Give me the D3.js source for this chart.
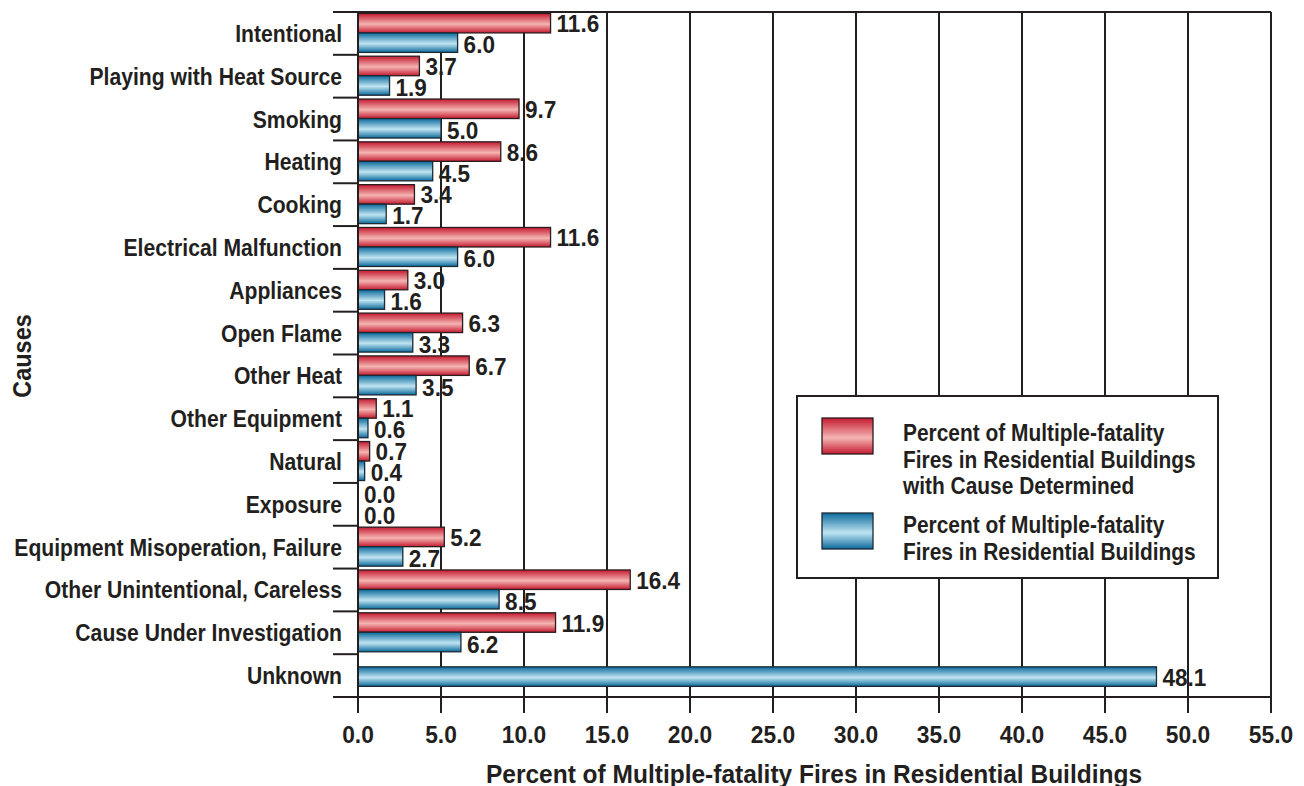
<!DOCTYPE html>
<html>
<head>
<meta charset="utf-8">
<script src="https://cdn.jsdelivr.net/npm/d3@7"></script>
<style>
  html, body { margin: 0; padding: 0; background: #fff; }
  #chart text {
    font-family: "Liberation Sans", Arial, sans-serif;
    font-weight: bold;
    fill: #231f20;
  }
</style>
</head>
<body>
<div id="chart"></div>
<script>
// Multiple-fatality residential fires by cause - paired horizontal bars

const causes = [
  "Intentional",
  "Playing with Heat Source",
  "Smoking",
  "Heating",
  "Cooking",
  "Electrical Malfunction",
  "Appliances",
  "Open Flame",
  "Other Heat",
  "Other Equipment",
  "Natural",
  "Exposure",
  "Equipment Misoperation, Failure",
  "Other Unintentional, Careless",
  "Cause Under Investigation",
  "Unknown"
];

// red series: share among fires with cause determined (Unknown has none)
const pctCauseDetermined = [11.6, 3.7, 9.7, 8.6, 3.4, 11.6, 3.0, 6.3, 6.7, 1.1, 0.7, 0.0, 5.2, 16.4, 11.9, null];
// blue series: share among all multiple-fatality residential fires
const pctAllFires = [6.0, 1.9, 5.0, 4.5, 1.7, 6.0, 1.6, 3.3, 3.5, 0.6, 0.4, 0.0, 2.7, 8.5, 6.2, 48.1];

const xTicks = [0, 5, 10, 15, 20, 25, 30, 35, 40, 45, 50, 55];

const legendLabels = [
  ["Percent of Multiple-fatality", "Fires in Residential Buildings", "with Cause Determined"],
  ["Percent of Multiple-fatality", "Fires in Residential Buildings"]
];

const xTitle = "Percent of Multiple-fatality Fires in Residential Buildings";
const yTitle = "Causes";

const width = 1304;
const height = 786;
const margin = { top: 12, right: 33, bottom: 89, left: 358 };
const ink = "#231f20";

const svg = d3.select("#chart")
  .append("svg")
  .attr("width", width)
  .attr("height", height);

const defs = svg.append("defs");

function stripeGradient(id, dark, light) {
  const g = defs.append("linearGradient")
    .attr("id", id)
    .attr("x1", 0).attr("y1", 0)
    .attr("x2", 0).attr("y2", 1);
  g.append("stop").attr("offset", "0%").attr("stop-color", dark);
  g.append("stop").attr("offset", "55%").attr("stop-color", light);
  g.append("stop").attr("offset", "100%").attr("stop-color", dark);
}
stripeGradient("redGrad", "#c41a30", "#f5b4b2");
stripeGradient("blueGrad", "#0a6a9c", "#c0e4f2");

// condensed look: plain bold sans squeezed horizontally
function label(parent, px, py, str, size, sx, anchor, rot) {
  return parent.append("text")
    .attr("transform", `translate(${px},${py})${rot ? ` rotate(${rot})` : ""} scale(${sx},1)`)
    .attr("text-anchor", anchor || "start")
    .style("font-size", size + "px")
    .text(str);
}

const x = d3.scaleLinear()
  .domain([0, 55])
  .range([margin.left, width - margin.right]);

const y = d3.scaleBand()
  .domain(causes)
  .range([margin.top, height - margin.bottom]);

const barH = 19.5;
const fmt = d3.format(".1f");

// vertical grid lines (extend below plot as tick marks)
svg.append("g")
  .selectAll("line")
  .data(xTicks)
  .enter()
  .append("line")
  .attr("x1", d => x(d))
  .attr("x2", d => x(d))
  .attr("y1", margin.top)
  .attr("y2", height - margin.bottom + 16)
  .attr("stroke", ink)
  .attr("stroke-width", 2);

// top frame line
svg.append("line")
  .attr("x1", x(0)).attr("x2", x(55))
  .attr("y1", margin.top).attr("y2", margin.top)
  .attr("stroke", ink).attr("stroke-width", 2);

// category boundary ticks on the left (last one is the bottom frame)
const bounds = causes.map(c => y(c)).concat([y.range()[1]]);
svg.append("g")
  .selectAll("line")
  .data(bounds)
  .enter()
  .append("line")
  .attr("x1", x(0) - 25)
  .attr("x2", (d, i) => i === bounds.length - 1 ? x(55) : x(0))
  .attr("y1", d => d)
  .attr("y2", d => d)
  .attr("stroke", ink)
  .attr("stroke-width", 2);

// bars
const rows = causes.map((c, i) => ({
  cause: c,
  red: pctCauseDetermined[i],
  blue: pctAllFires[i]
}));

const barG = svg.append("g");
const valueSize = 23.5;
const valueSx = 0.96;

rows.forEach(d => {
  const cy = y(d.cause) + y.bandwidth() / 2;
  const hasRed = d.red !== null;
  const redY = cy - barH - 0.5;
  const blueY = hasRed ? cy - 0.5 : cy - barH / 2 + 1;

  if (hasRed) {
    barG.append("rect")
      .attr("x", x(0))
      .attr("y", redY)
      .attr("width", x(d.red) - x(0))
      .attr("height", barH)
      .attr("fill", "url(#redGrad)")
      .attr("stroke", d.red > 0 ? "#2b1d1f" : "none")
      .attr("stroke-width", 1.3);
    label(barG, x(d.red) + 6, redY + barH / 2 + 9, fmt(d.red), valueSize, valueSx);
  }

  barG.append("rect")
    .attr("x", x(0))
    .attr("y", blueY)
    .attr("width", x(d.blue) - x(0))
    .attr("height", barH)
    .attr("fill", "url(#blueGrad)")
    .attr("stroke", d.blue > 0 ? "#1c2a33" : "none")
    .attr("stroke-width", 1.3);
  label(barG, x(d.blue) + 6, blueY + barH / 2 + (hasRed ? 10.5 : 9), fmt(d.blue), valueSize, valueSx);
});

// left axis line
svg.append("line")
  .attr("x1", x(0)).attr("x2", x(0))
  .attr("y1", margin.top).attr("y2", height - margin.bottom + 16)
  .attr("stroke", ink).attr("stroke-width", 2);

// category labels
const catG = svg.append("g");
causes.forEach(c => {
  label(catG, 342, y(c) + y.bandwidth() / 2 + 8.5, c, 23.5, 0.9, "end");
});

// x tick labels
const tickG = svg.append("g");
xTicks.forEach(t => {
  label(tickG, x(t), 743, fmt(t), 23.5, 0.97, "middle");
});

// axis titles
label(svg, 814, 783, xTitle, 25, 0.98, "middle");
label(svg, 31, 356, yTitle, 25.5, 0.92, "middle", -90);

// legend
const legend = svg.append("g");
legend.append("rect")
  .attr("x", 797).attr("y", 396)
  .attr("width", 421).attr("height", 182)
  .attr("fill", "#fff")
  .attr("stroke", ink)
  .attr("stroke-width", 2);

const legendItems = [
  { grad: "url(#redGrad)", stroke: "#2b1d1f", sy: 418, ty: 441, lines: legendLabels[0] },
  { grad: "url(#blueGrad)", stroke: "#1c2a33", sy: 513, ty: 533, lines: legendLabels[1] }
];

legendItems.forEach(item => {
  legend.append("rect")
    .attr("x", 822).attr("y", item.sy)
    .attr("width", 51).attr("height", 36)
    .attr("fill", item.grad)
    .attr("stroke", item.stroke)
    .attr("stroke-width", 1.3);
  item.lines.forEach((line, i) => {
    label(legend, 903, item.ty + i * 26.5, line, 23.5, 0.89);
  });
});
</script>
</body>
</html>
